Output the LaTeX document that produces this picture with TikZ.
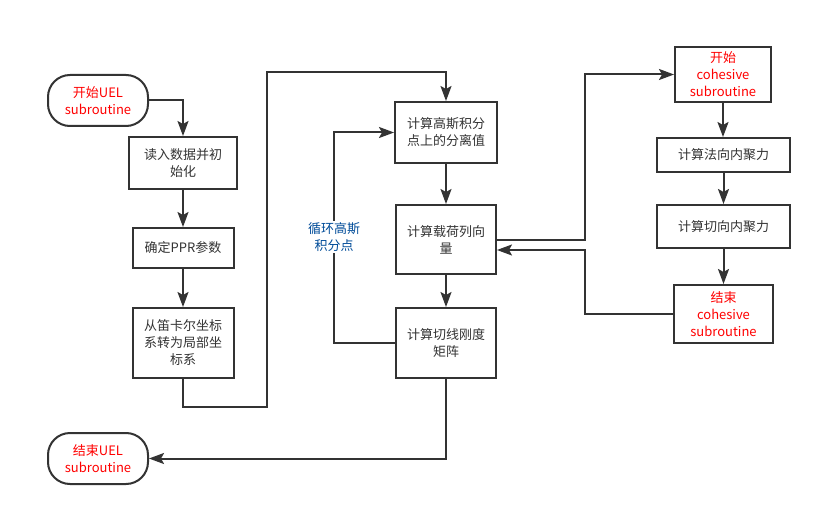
\documentclass[tikz,border=0pt]{standalone}
\usepackage{fontspec}
\setmainfont{Noto Sans CJK SC}
\usetikzlibrary{arrows.meta}
\definecolor{ln}{HTML}{333333}
\definecolor{rd}{HTML}{FF0000}
\definecolor{bl}{HTML}{004C99}
\tikzset{
  box/.style={draw=ln, line width=2pt, rectangle, align=center, text=ln,
    font=\fontsize{13pt}{17pt}\selectfont, inner sep=2pt},
  pill/.style={box, rounded corners=22pt, text=rd},
  arr/.style={draw=ln, line width=2pt, -{Stealth[length=15pt,width=11pt,inset=3pt]}},
}
\begin{document}
\begin{tikzpicture}[x=1pt,y=-1pt]
\useasboundingbox[fill=white] (0,0) rectangle (822,516);
\node[pill, minimum width=100pt, minimum height=51pt] (s) at (98,100.5) {开始UEL\\subroutine};
\node[box, minimum width=108pt, minimum height=52pt] (b1) at (183,163) {读入数据并初\\始化};
\node[box, minimum width=101pt, minimum height=40pt] (b2) at (183,248) {确定PPR参数};
\node[box, minimum width=101pt, minimum height=70pt] (b3) at (183,343) {从笛卡尔坐标\\系转为局部坐\\标系};
\node[box, minimum width=102pt, minimum height=61pt] (b4) at (446,132.5) {计算高斯积分\\点上的分离值};
\node[box, minimum width=100pt, minimum height=69pt] (b5) at (446,239.5) {计算载荷列向\\量};
\node[box, minimum width=100pt, minimum height=70pt] (b6) at (446,343) {计算切线刚度\\矩阵};
\node[pill, minimum width=100pt, minimum height=51pt] (e) at (98,458.5) {结束UEL\\subroutine};
\node[box, text=rd, minimum width=96pt, minimum height=55pt] (cs) at (723,74.5) {开始\\cohesive\\subroutine};
\node[box, minimum width=133pt, minimum height=34pt] (c1) at (723.5,155) {计算法向内聚力};
\node[box, minimum width=133pt, minimum height=43pt] (c2) at (723.5,226.5) {计算切向内聚力};
\node[box, text=rd, minimum width=99pt, minimum height=58pt] (ce) at (723.5,314) {结束\\cohesive\\subroutine};

\draw[arr] (s.east) -| (b1.north);
\draw[arr] (b1.south) -- (b1.south |- b2.north);
\draw[arr] (b2.south) -- (b3.north);
\coordinate (j1) at (267,407);
\coordinate (j2) at (267,72);
\coordinate (j3) at (446,72);
\draw[arr] (b3.south) |- (j1) -- (j2) -- (j3) -- (b4.north);
\draw[arr] (b4.south) -- (b5.north);
\draw[arr] (b5.south) -- (b6.north);
\coordinate (l1) at (334,343);
\coordinate (l2) at (334,132.5);
\draw[arr] (b6.west) -- (l1) -- (l2) -- (b4.west);
\node[fill=white, text=bl, align=center, inner sep=1pt,
  font=\fontsize{13pt}{17pt}\selectfont] (lbl) at (334,237) {循环高斯\\积分点};
\draw[arr] (b6.south) |- (e.east);
\coordinate (r1) at (585,239.5);
\coordinate (r2) at (585,74.5);
\draw[arr] (b5.east) -- (r1) -- (r2) -- (cs.west);
\draw[arr] (cs.south) -- (cs.south |- c1.north);
\draw[arr] (c1.south) -- (c2.north);
\draw[arr] (c2.south) -- (c2.south |- ce.north);
\coordinate (q1) at (585,314);
\coordinate (q2) at (585,250);
\draw[arr] (ce.west) -- (q1) -- (q2) -- ([yshift=-10.5pt]b5.east);
\end{tikzpicture}
\end{document}
